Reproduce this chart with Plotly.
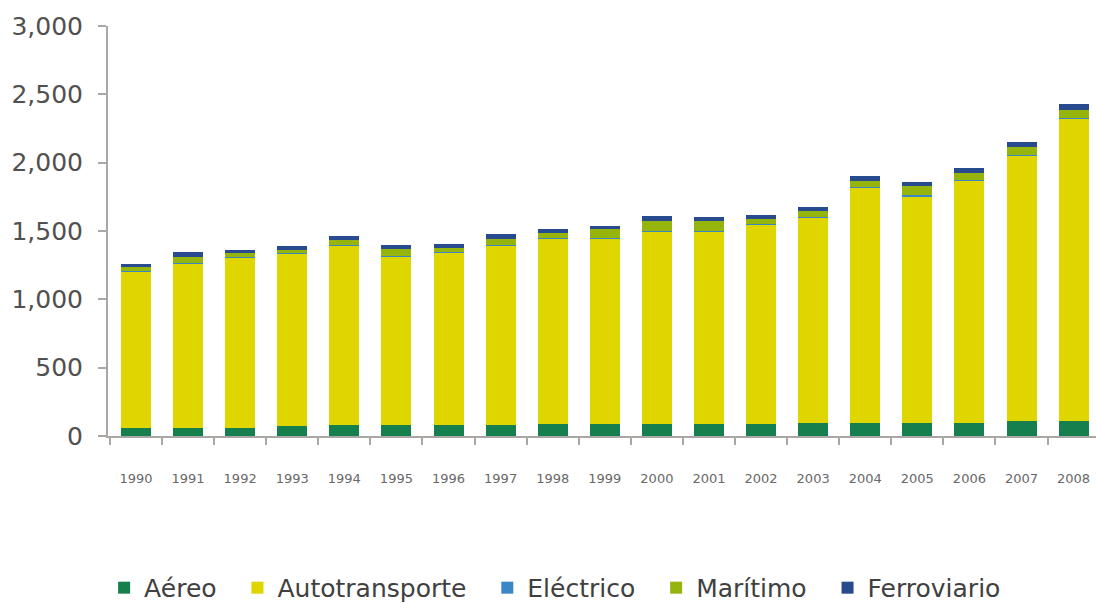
import plotly.graph_objects as go

# Transport sector series by mode, 1990-2008
years = [str(y) for y in range(1990, 2009)]

aereo = [55, 57, 58, 75, 78, 78, 80, 80, 88, 88, 90, 90, 90, 92, 92, 92, 95, 110, 112]
autotransporte = [1145, 1205, 1247, 1257, 1317, 1237, 1260, 1312, 1354, 1357,
                  1405, 1405, 1455, 1508, 1723, 1664, 1771, 1939, 2208]
electrico = [5, 5, 5, 4, 4, 4, 4, 4, 4, 4, 4, 4, 4, 4, 4, 4, 4, 4, 4]
maritimo = [30, 45, 26, 28, 36, 46, 34, 46, 42, 66, 76, 72, 40, 40, 50, 66, 55, 60, 65]
ferroviario = [27, 34, 26, 26, 25, 35, 30, 36, 30, 25, 35, 34, 29, 28, 33, 32, 36, 38, 40]

y_ticks = [0, 500, 1000, 1500, 2000, 2500, 3000]

series = [
    ("Aéreo", aereo, "#15804e"),
    ("Autotransporte", autotransporte, "#dfd600"),
    ("Eléctrico", electrico, "#3a87c8"),
    ("Marítimo", maritimo, "#95b50c"),
    ("Ferroviario", ferroviario, "#284a8f"),
]

FONT = "DejaVu Sans"
AXIS_GREY = "#aaa6a4"
PAD = "\u00a0\u00a0"  # extra room between horizontal legend entries

fig = go.Figure()
for name, vals, color in series:
    fig.add_trace(go.Bar(
        x=years, y=vals, name=name + PAD,
        marker=dict(color=color, line=dict(width=0)),
    ))

fig.update_layout(
    barmode="stack",
    bargap=0.424,
    width=1096, height=603,
    margin=dict(l=108, r=0, t=26, b=167, pad=0),
    paper_bgcolor="white",
    plot_bgcolor="white",
    font=dict(family=FONT, color="#4a4a4a"),
    showlegend=True,
    legend=dict(
        orientation="h",
        xref="container", yref="container",
        x=0.095, xanchor="left",
        y=0.025, yanchor="middle",
        font=dict(family=FONT, size=25, color="#404040"),
        traceorder="normal",
        itemclick=False,
    ),
)

fig.update_xaxes(
    type="category",
    range=[-0.537, 18.43],
    showline=True, linecolor=AXIS_GREY, linewidth=2,
    ticks="outside", tickson="boundaries", ticklen=7, tickwidth=2, tickcolor=AXIS_GREY,
    tickfont=dict(family=FONT, size=13, color="#686868"),
    ticklabelstandoff=29,
    showgrid=False, zeroline=False,
)

fig.update_yaxes(
    range=[0, 3000],
    tickvals=y_ticks,
    tickformat=",d",
    showline=True, linecolor=AXIS_GREY, linewidth=2,
    ticks="outside", ticklen=8, tickwidth=2, tickcolor=AXIS_GREY,
    tickfont=dict(family=FONT, size=25, color="#505050"),
    ticklabelstandoff=10,
    showgrid=False, zeroline=False,
)

fig.write_html("out.html")
